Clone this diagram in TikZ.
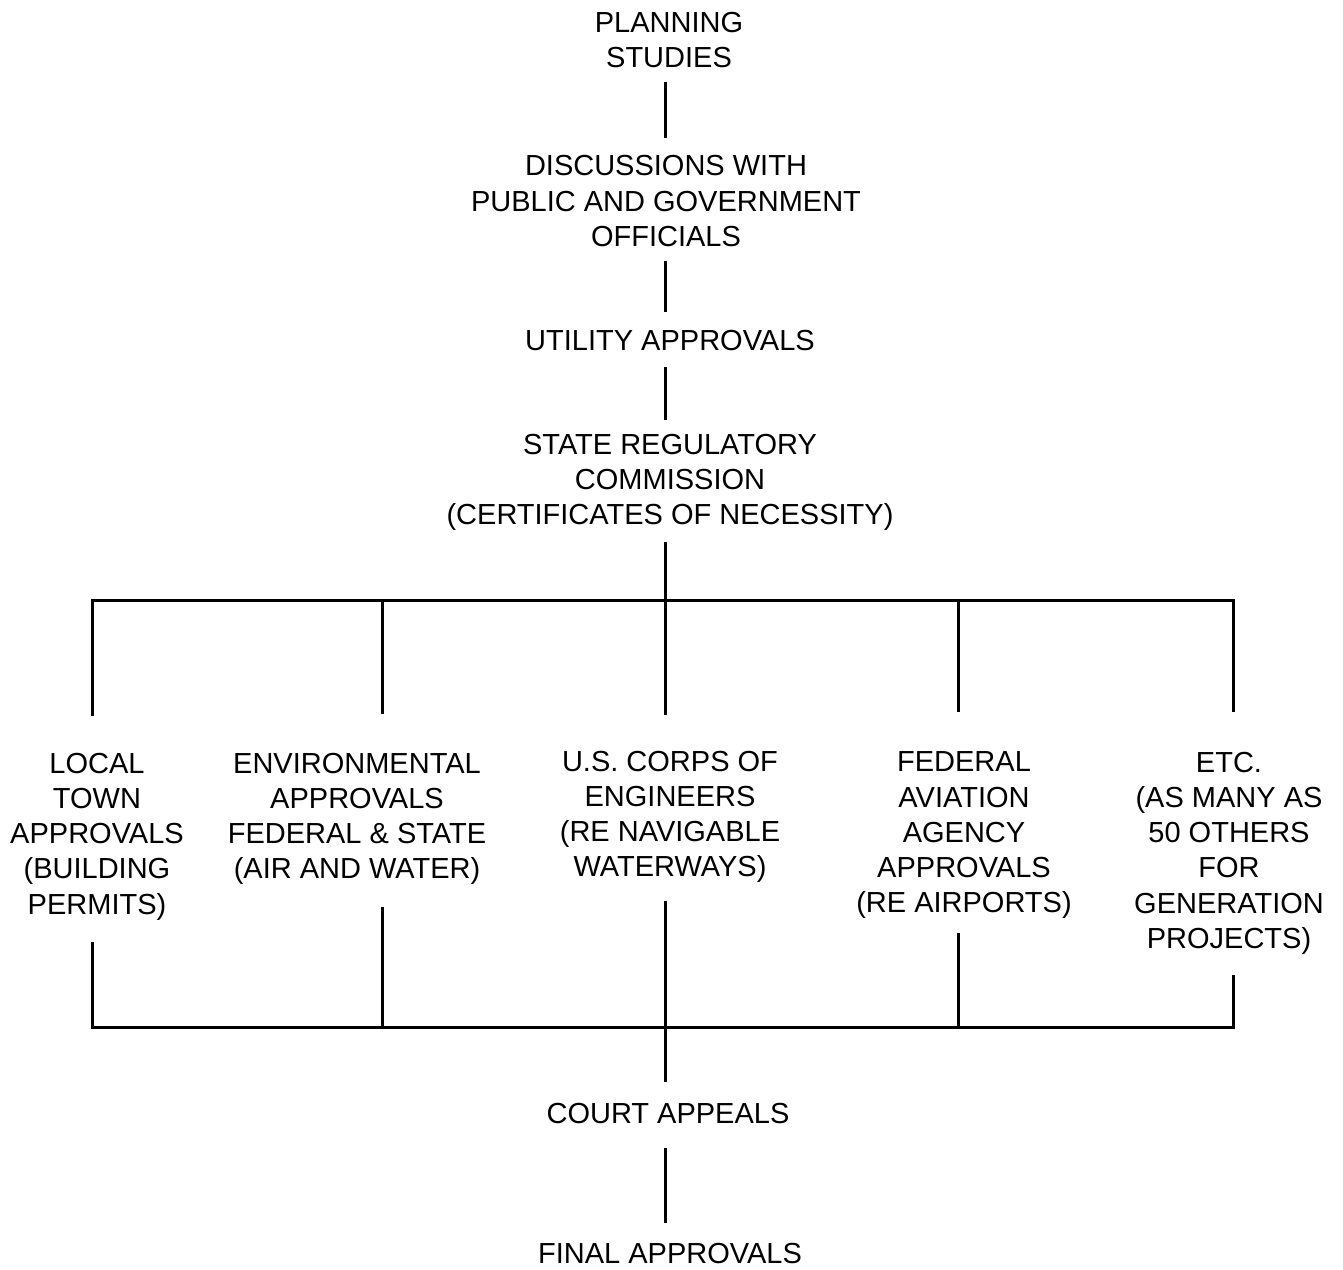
\documentclass[tikz,border=0pt]{standalone}
\usepackage{fontspec}
\setmainfont{Liberation Sans}
\begin{document}
\begin{tikzpicture}[x=1pt,y=-1pt,
  stage/.style={font=\fontsize{29}{35.2}\selectfont, align=center,
    inner sep=0pt, outer sep=0pt, anchor=north,
    execute at begin node=\vphantom{(}, execute at end node=\vphantom{(}},
  link/.style={line width=3pt},
]
\useasboundingbox (0,0) rectangle (1343,1269);

% approval stages
\node[stage] (plan)  at (669,11.9)  {PLANNING\\STUDIES};
\node[stage] (disc)  at (666,155.6) {DISCUSSIONS WITH\\PUBLIC AND GOVERNMENT\\OFFICIALS};
\node[stage] (util)  at (670,329)   {UTILITY APPROVALS};
\node[stage] (state) at (670,434)   {STATE REGULATORY\\COMMISSION\\(CERTIFICATES OF NECESSITY)};
\node[stage] (local) at (97,753)    {LOCAL\\TOWN\\APPROVALS\\(BUILDING\\PERMITS)};
\node[stage] (env)   at (357,753)   {ENVIRONMENTAL\\APPROVALS\\FEDERAL \& STATE\\(AIR AND WATER)};
\node[stage] (corps) at (670,751)   {U.S. CORPS OF\\ENGINEERS\\(RE NAVIGABLE\\WATERWAYS)};
\node[stage] (faa)   at (964,752)   {FEDERAL\\AVIATION\\AGENCY\\APPROVALS\\(RE AIRPORTS)};
\node[stage] (etc)   at (1229,752)  {ETC.\\(AS MANY AS\\50 OTHERS\\FOR\\GENERATION\\PROJECTS)};
\node[stage] (court) at (668,1102)  {COURT APPEALS};
\node[stage] (final) at (670,1242)  {FINAL APPROVALS};

% spine and bus positions
\coordinate (spine) at (665,600);
\coordinate (tl) at (92,600);   \coordinate (te) at (382,600);
\coordinate (tf) at (958,600);  \coordinate (tr) at (1233,600);
\coordinate (bl) at (92,1027);  \coordinate (be) at (382,1027);
\coordinate (bf) at (958,1027); \coordinate (br) at (1233,1027);

% main sequence
\draw[link, shorten <=9pt,    shorten >=18pt] (plan.south -| spine)  -- (disc.north -| spine);
\draw[link, shorten <=9pt,    shorten >=17pt] (disc.south -| spine)  -- (util.north -| spine);
\draw[link, shorten <=11pt,   shorten >=14pt] (util.south -| spine)  -- (state.north -| spine);
\draw[link, shorten <=11.5pt, shorten >=36pt] (state.south -| spine) -- (corps.north -| spine);

% upper distribution bus
\draw[link, shorten <=37pt, shorten >=40pt] (local.north -| tl) -- (tl) -- (tr) -- (etc.north -| tr);
\draw[link, shorten >=39pt] (te) -- (env.north -| te);
\draw[link, shorten >=40pt] (tf) -- (faa.north -| tf);

% lower collection bus
\draw[link, shorten <=22pt, shorten >=21pt] (local.south -| bl) -- (bl) -- (br) -- (etc.south -| br);
\draw[link, shorten <=22pt] (env.south -| be) -- (be);
\draw[link, shorten <=14pt] (faa.south -| bf) -- (bf);

% final steps
\draw[link, shorten <=18pt, shorten >=20pt] (corps.south -| spine) -- (court.north -| spine);
\draw[link, shorten <=19pt, shorten >=19pt] (court.south -| spine) -- (final.north -| spine);
\end{tikzpicture}
\end{document}
